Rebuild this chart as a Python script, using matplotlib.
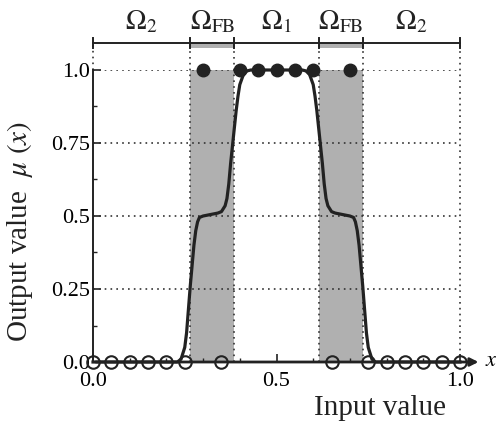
import numpy as np
import matplotlib.pyplot as plt

plt.rcParams['font.family'] = ['Liberation Serif', 'DejaVu Serif']
plt.rcParams['mathtext.fontset'] = 'stix'

# training points
x_on = [0.3, 0.4, 0.45, 0.5, 0.55, 0.6, 0.7]
x_off = [0.0, 0.05, 0.1, 0.15, 0.2, 0.25, 0.35, 0.65, 0.75, 0.8, 0.85, 0.9, 0.95, 1.0]

# output curve
curve_x = [0.0, 0.2, 0.23, 0.24, 0.25, 0.255, 0.26, 0.265, 0.27, 0.275, 0.28, 0.285,
           0.29, 0.3, 0.32, 0.34, 0.35, 0.36, 0.365, 0.37, 0.375, 0.38, 0.385, 0.39,
           0.395, 0.4, 0.41, 0.42, 0.43, 0.5,
           0.57, 0.58, 0.59, 0.6, 0.605, 0.61, 0.615, 0.62, 0.625, 0.63, 0.635, 0.64,
           0.65, 0.66, 0.68, 0.7, 0.71, 0.715, 0.72, 0.725, 0.73, 0.735, 0.74, 0.745,
           0.75, 0.76, 0.77, 0.8, 1.0]
curve_y = [0.0, 0.0, 0.0, 0.01, 0.05, 0.10, 0.18, 0.26, 0.33, 0.40, 0.45, 0.48,
           0.495, 0.50, 0.505, 0.51, 0.515, 0.535, 0.56, 0.61, 0.68, 0.74, 0.80, 0.86,
           0.91, 0.95, 0.985, 0.997, 1.0, 1.0,
           1.0, 0.997, 0.985, 0.95, 0.91, 0.86, 0.80, 0.74, 0.68, 0.61, 0.56, 0.535,
           0.515, 0.51, 0.505, 0.50, 0.495, 0.48, 0.45, 0.40, 0.33, 0.26, 0.18, 0.10,
           0.05, 0.01, 0.0, 0.0, 0.0]

# region boundaries and labels
bounds = [0.0, 0.265, 0.385, 0.615, 0.735, 1.0]
fb_regions = [(0.265, 0.385), (0.615, 0.735)]
region_labels = [r'$\Omega_2$', r'$\Omega_{\rm FB}$', r'$\Omega_1$', r'$\Omega_{\rm FB}$', r'$\Omega_2$']

fig = plt.figure(figsize=(4.99, 4.29), dpi=100)
ax = fig.add_axes([93 / 499, 1 - 362 / 429, 367 / 499, 292 / 429])
ax.set_xlim(0, 1)
ax.set_ylim(0, 1)

for a, b in fb_regions:
    ax.axvspan(a, b, ymin=0, ymax=1, facecolor='#b0b0b0', edgecolor='none', zorder=1)
    ax.add_patch(plt.Rectangle((a, 1.075), b - a, 0.017, facecolor='#b0b0b0',
                               edgecolor='none', clip_on=False))

# dotted grid
for yv in [0.25, 0.5, 0.75, 1.0]:
    ax.plot([0, 1], [yv, yv], ls=(0, (1, 2.5)), color='#333333', lw=1.2, zorder=2)
for xv in bounds:
    y0 = 1.0 if xv == 0.0 else 0.0
    ax.plot([xv, xv], [y0, 1.092], ls=(0, (1, 2.5)), color='#333333', lw=1.2,
            zorder=2, clip_on=False)

# region bar on top
ax.plot([0, 1], [1.092, 1.092], color='#222222', lw=1.4, clip_on=False)
for xv in bounds:
    ax.plot([xv, xv], [1.075, 1.11], color='#222222', lw=1.4, clip_on=False)
for i, lab in enumerate(region_labels):
    ax.text((bounds[i] + bounds[i + 1]) / 2, 1.165, lab, ha='center', va='center',
            fontsize=20, color='#222222', clip_on=False)

# x axis arrow
ax.annotate('', xy=(1.058, 0), xytext=(0, 0), annotation_clip=False,
            arrowprops=dict(arrowstyle='-|>', color='#222222', lw=2, mutation_scale=12))
ax.text(1.068, 0.0, r'$x$', fontsize=16, ha='left', va='center', clip_on=False)

ax.plot(curve_x, curve_y, color='#222222', lw=2.3, zorder=4, clip_on=False)
ax.plot(x_on, [1.0] * len(x_on), 'o', color='#222222', ms=9, zorder=5, clip_on=False)
ax.plot(x_off, [0.0] * len(x_off), 'o', mfc='none', mec='#222222', mew=1.5, ms=9,
        zorder=5, clip_on=False)

for s in ['top', 'right', 'bottom']:
    ax.spines[s].set_visible(False)
ax.spines['left'].set_linewidth(1.4)
ax.spines['left'].set_color('#222222')

ax.set_xticks([0.0, 0.5, 1.0])
ax.set_xticklabels(['0.0', '0.5', '1.0'])
ax.set_xticks(np.arange(0, 1.01, 0.1), minor=True)
ax.set_yticks([0.0, 0.25, 0.5, 0.75, 1.0])
ax.set_yticklabels(['0.0', '0.25', '0.5', '0.75', '1.0'])
ax.set_yticks(np.arange(0, 1.01, 0.125), minor=True)
ax.tick_params(axis='both', which='both', direction='in', labelsize=16, color='#222222')
ax.tick_params(axis='x', which='both', pad=7, bottom=True)
ax.tick_params(axis='y', which='both', pad=2)
ax.tick_params(which='major', length=6, width=1.2)
ax.tick_params(which='minor', length=3, width=1)

fig.text(380 / 499, 1 - 408 / 429, 'Input value', fontsize=21, ha='center', va='center',
         color='#222222')
fig.text(20 / 499, 1 - 231 / 429, r'Output value  $\mu\ (x)$', fontsize=21, rotation=90,
         ha='center', va='center', color='#222222')

fig.savefig('out.png', dpi=100)
